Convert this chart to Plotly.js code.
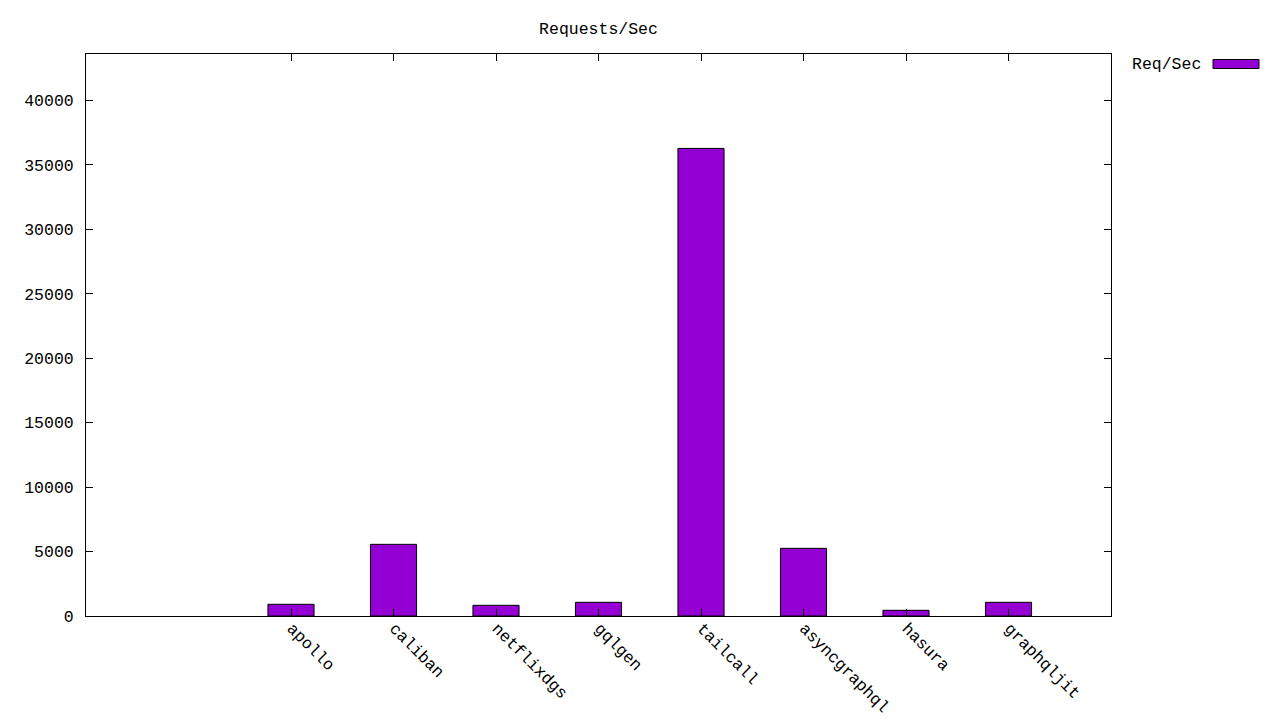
<!DOCTYPE html>
<html>
<head>
<meta charset="utf-8">
<script src="https://cdn.plot.ly/plotly-3.0.1.min.js"></script>
<style>html,body{margin:0;padding:0;background:#fff;}#chart{width:1280px;height:720px;}</style>
</head>
<body>
<div id="chart"></div>
<script>
const categories = ["apollo", "caliban", "netflixdgs", "gqlgen", "tailcall", "asyncgraphql", "hasura", "graphqljit"];
const reqPerSec = [907, 5560, 830, 1063, 36275, 5250, 442, 1063];
const seriesName = "Req/Sec";
const yTicks = [0, 5000, 10000, 15000, 20000, 25000, 30000, 35000, 40000];

const FONT = "Liberation Mono, DejaVu Sans Mono, monospace";
const FS = 16.5;
const BAR = "#9400d3";

const trace = {
  type: "bar",
  x: categories,
  y: reqPerSec,
  name: seriesName,
  width: 0.45,
  marker: {color: BAR, line: {color: "#000", width: 1}},
  hoverinfo: "x+y"
};

const layout = {
  width: 1280, height: 720,
  margin: {l: 86, r: 169, t: 54, b: 104, pad: 0},
  paper_bgcolor: "#fff", plot_bgcolor: "#fff",
  font: {family: FONT, size: FS, color: "#000"},
  showlegend: false,
  title: {text: "Requests/Sec", font: {family: FONT, size: FS, color: "#000"},
          x: 0.5, xref: "paper", y: 1 - 28/720, yref: "container", yanchor: "middle"},
  xaxis: {
    type: "category", range: [-2, 8],
    tickvals: categories, ticktext: categories,
    tickangle: 45, ticks: "inside", ticklen: 7, tickcolor: "#000", tickwidth: 1,
    showline: true, linecolor: "#000", linewidth: 1, mirror: "ticks",
    showgrid: false, zeroline: false, fixedrange: true,
    ticklabelstandoff: -5, ticklabelshift: 1,
    tickfont: {family: FONT, size: FS, color: "#000"}
  },
  yaxis: {
    range: [0, 43600], tickvals: yTicks, ticktext: yTicks.map(String),
    ticks: "inside", ticklen: 7, tickcolor: "#000", tickwidth: 1,
    showline: true, linecolor: "#000", linewidth: 1, mirror: "ticks",
    showgrid: false, zeroline: false, fixedrange: true,
    ticklabelstandoff: 8,
    tickfont: {family: FONT, size: FS, color: "#000"}
  },
  annotations: [{
    text: seriesName, xref: "paper", yref: "paper",
    x: (1203 - 86) / 1025, y: (616 - 64.5) / 562,
    xanchor: "right", yanchor: "middle", showarrow: false,
    font: {family: FONT, size: FS, color: "#000"}
  }],
  shapes: [{
    type: "rect", xref: "paper", yref: "paper",
    x0: (1213 - 86) / 1025, x1: (1259 - 86) / 1025,
    y0: (616 - 68.5) / 562, y1: (616 - 59.5) / 562,
    fillcolor: BAR, line: {color: "#000", width: 1}
  }]
};

Plotly.newPlot("chart", [trace], layout, {displayModeBar: false, staticPlot: true});
</script>
</body>
</html>
